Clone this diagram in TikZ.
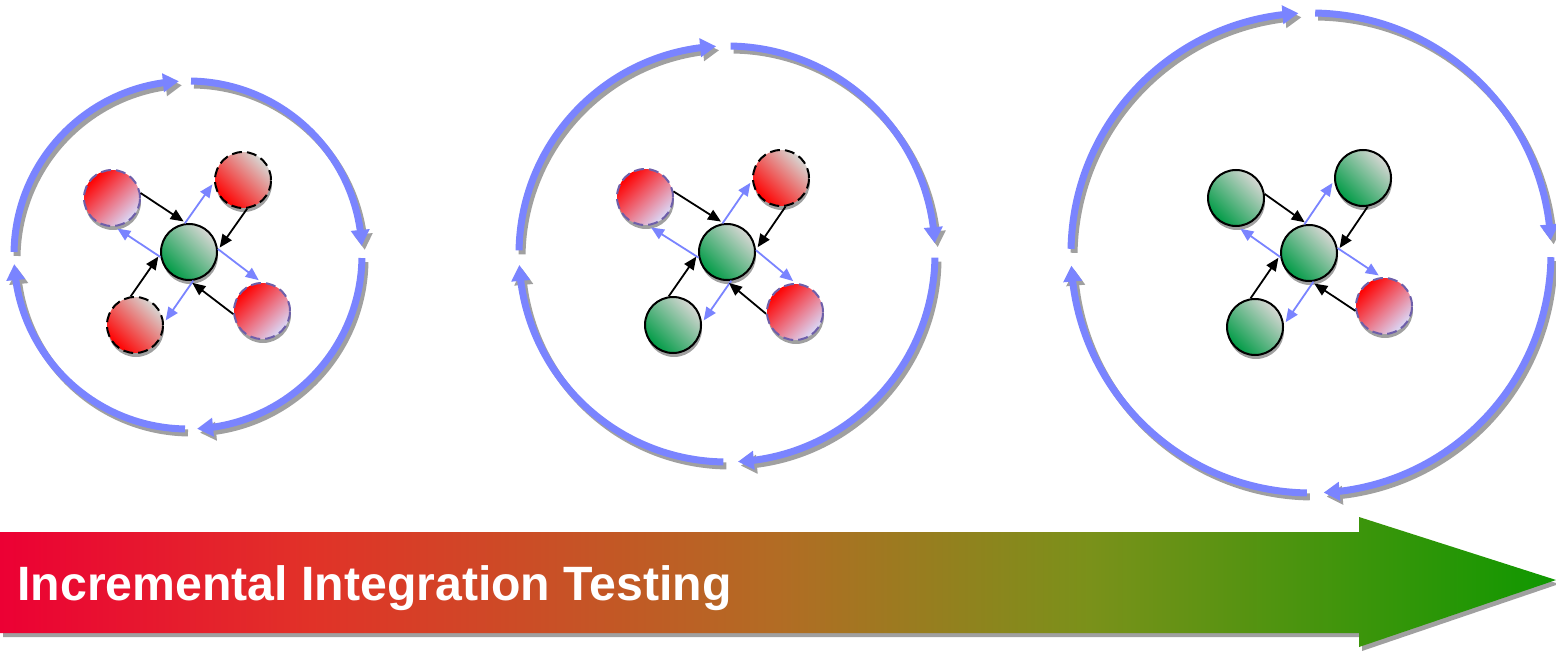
\documentclass[tikz,border=0pt]{standalone}
\usepackage{fontspec}
\setmainfont{Liberation Sans}
\usetikzlibrary{arrows.meta,bending,calc,shadows}

\definecolor{ringblue}{RGB}{122,132,255}
\definecolor{nodegreen}{RGB}{0,155,70}
\definecolor{nodegrey}{RGB}{215,215,212}
\definecolor{lav}{RGB}{218,218,250}
\definecolor{stubpurple}{RGB}{110,95,170}
\definecolor{shadowgray}{RGB}{160,160,160}
\definecolor{c0}{RGB}{236,0,52}
\definecolor{c1}{RGB}{225,50,40}
\definecolor{c2}{RGB}{178,108,36}
\definecolor{c3}{RGB}{122,145,26}
\definecolor{c4}{RGB}{15,152,0}
\pgfdeclarehorizontalshading{barshade}{100bp}{color(0bp)=(c0); color(25bp)=(c0); color(35bp)=(c1); color(50bp)=(c2); color(60bp)=(c3); color(75bp)=(c4); color(100bp)=(c4)}

\newcommand\lnk[2]{%
  \draw[blk] ($(#1)!14.5pt!45:(#2)$) -- ($(#2)!15.5pt!-45:(#1)$);
  \draw[blu] ($(#2)!14.5pt!45:(#1)$) -- ($(#1)!15.5pt!-45:(#2)$);
}

\begin{document}
\begin{tikzpicture}[x=0.5pt,y=-0.5pt,
  ring/.style={draw=ringblue, line width=3.5pt, -{Triangle[width=9pt,length=8pt]}},
  ringshadow/.style={ring, draw=shadowgray},
  basenode/.style={circle, minimum size=28pt, inner sep=0pt, line width=1pt,
    drop shadow={shadow xshift=0.5pt, shadow yshift=-2pt, fill=shadowgray, opacity=1}},
  done/.style={basenode, draw=black, top color=nodegrey, bottom color=nodegreen, shading angle=-45},
  stubk/.style={basenode, draw=black, dash pattern=on 5pt off 2.5pt, top color=nodegrey, bottom color=red, shading angle=-45},
  stubp/.style={basenode, draw=stubpurple, dash pattern=on 5pt off 2.5pt, top color=red, bottom color=lav, shading angle=45},
  blk/.style={draw=black, line width=0.9pt, -{Triangle[length=6.5pt,width=5.5pt]}},
  blu/.style={draw=ringblue, line width=0.9pt, -{Triangle[length=6.5pt,width=5.5pt]}},
  title/.style={anchor=base west, inner sep=0pt, text=white, font=\fontsize{24.1pt}{28pt}\selectfont\bfseries}
]
\useasboundingbox (0,0) rectangle (1556,652);

% ring centres
\coordinate (R1) at (188,255);
\coordinate (R2) at (727,254);
\coordinate (R3) at (1311,253);

% rings (shadow first)
\foreach \c/\r in {R1/174, R2/208, R3/240}{
  \foreach \a in {-180,-90,0,90}{
    \draw[ringshadow] ([shift={(3,4)}]\c) ++(\a+1:\r) arc[start angle=\a+1, end angle=\a+87, radius=\r];
  }
}
\foreach \c/\r in {R1/174, R2/208, R3/240}{
  \foreach \a in {-180,-90,0,90}{
    \draw[ring] (\c) ++(\a+1:\r) arc[start angle=\a+1, end angle=\a+87, radius=\r];
  }
}

% bottom arrow
\fill[shadowgray] (3,536) -- (1362,536) -- (1362,521) -- (1559,584) -- (1362,651) -- (1362,637) -- (3,637) -- cycle;
\shade[shading=barshade] (0,532) -- (1359,532) -- (1359,517) -- (1556,580) -- (1359,647) -- (1359,633) -- (0,633) -- cycle;
\node[title] (lbl) at (17,600) {Incremental Integration Testing};

% cluster 1
\node[done]  (c1)   at (189,252) {};
\node[stubp] (c1tl) at (112,198) {};
\node[stubk] (c1tr) at (243,180) {};
\node[stubk] (c1bl) at (135,325) {};
\node[stubp] (c1br) at (262,311) {};

% cluster 2
\node[done]  (c2)   at (727,252) {};
\node[stubp] (c2tl) at (645,197) {};
\node[stubk] (c2tr) at (781,178) {};
\node[done]  (c2bl) at (673,325) {};
\node[stubp] (c2br) at (795,312) {};

% cluster 3
\node[done]  (c3)   at (1309,253) {};
\node[done]  (c3tl) at (1236,198) {};
\node[done]  (c3tr) at (1363,178) {};
\node[done]  (c3bl) at (1255,327) {};
\node[stubp] (c3br) at (1384,306) {};

\foreach \p in {1,2,3}{
  \foreach \q in {tl,tr,bl,br}{
    \lnk{c\p\q}{c\p}
  }
}
\end{tikzpicture}
\end{document}
